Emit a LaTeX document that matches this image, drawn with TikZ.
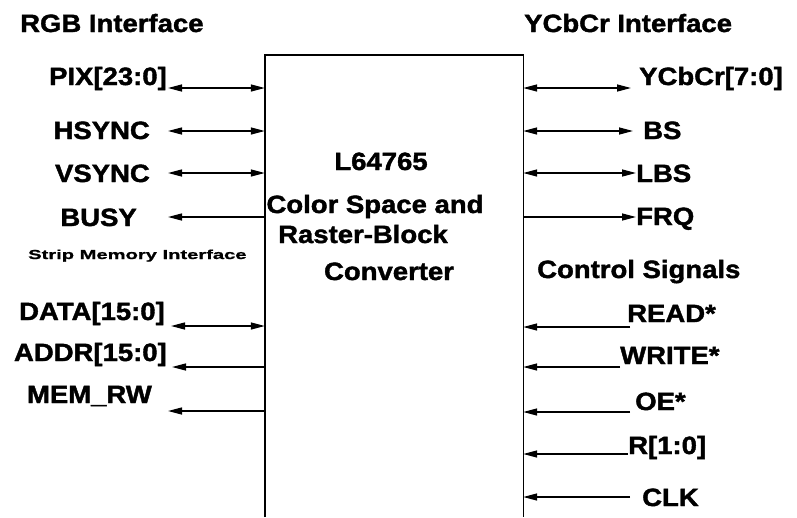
\documentclass[tikz,border=0pt]{standalone}
\usepackage{fontspec}
\newfontfamily\lblfont{Liberation Sans}[FakeStretch=1.1,FakeBold=1.6]
\newfontfamily\smlfont{Liberation Sans}[FakeStretch=1.55,FakeBold=1.2]
\usetikzlibrary{arrows.meta}
\tikzset{ah/.tip={Triangle[length=14pt,width=7pt]}}
\begin{document}
\begin{tikzpicture}[x=1pt,y=-1pt,
  lbl/.style={inner sep=0pt,font=\lblfont\bfseries\fontsize{25}{29}\selectfont},
  sml/.style={inner sep=0pt,font=\smlfont\bfseries\fontsize{13}{15}\selectfont},
  sig/.style={line width=1.4pt},
  both/.style={sig,arrows={ah-ah}},
  one/.style={sig,arrows={-ah}}]
\useasboundingbox (0,0) rectangle (797,517);
% chip
\node[minimum width=258pt,minimum height=462pt,inner sep=0pt] (chip) at (394,286) {};
\draw[line width=1.4pt] (chip.south west) -- (chip.north west) -- (chip.north east) -- (chip.south east);
\node[lbl,anchor=base] (t1) at (381,170) {L64765};
\node[lbl,anchor=base] (t2) at (375,213) {Color Space and};
\node[lbl,anchor=base] (t3) at (363,243) {Raster-Block};
\node[lbl,anchor=base] (t4) at (389,280) {Converter};
% titles
\node[lbl,anchor=base west] (rgb) at (20,32) {RGB Interface};
\node[lbl,anchor=base west] (ycc) at (524,32) {YCbCr Interface};
\node[sml,anchor=base west] (smi) at (28,259) {Strip Memory Interface};
\node[lbl,anchor=base west] (ctl) at (537,278) {Control Signals};
% left labels
\node[lbl,anchor=base east] (pix) at (167,85) {PIX[23:0]};
\node[lbl,anchor=base east] (hs) at (150,139) {HSYNC};
\node[lbl,anchor=base east] (vs) at (150,182) {VSYNC};
\node[lbl,anchor=base east] (busy) at (137,226) {BUSY};
\node[lbl,anchor=base east] (data) at (165,320) {DATA[15:0]};
\node[lbl,anchor=base east] (addr) at (167,361) {ADDR[15:0]};
\node[lbl,anchor=base east] (mem) at (152,403) {MEM\_RW};
% right labels
\node[lbl,anchor=base west] (ycbcr) at (639,85) {YCbCr[7:0]};
\node[lbl,anchor=base west] (bs) at (643,139) {BS};
\node[lbl,anchor=base west] (lbs) at (636,182) {LBS};
\node[lbl,anchor=base west] (frq) at (636,225) {FRQ};
\node[lbl,anchor=base west] (rd) at (627,322) {READ*};
\node[lbl,anchor=base west] (wr) at (620,364) {WRITE*};
\node[lbl,anchor=base west] (oe) at (635,410) {OE*};
\node[lbl,anchor=base west] (r10) at (628,454) {R[1:0]};
\node[lbl,anchor=base west] (clk) at (642,506) {CLK};
% left connector ends
\coordinate (pixL) at (168,88);
\coordinate (hsL) at (168,131);
\coordinate (vsL) at (168,173);
\coordinate (busyL) at (168,217);
\coordinate (dataL) at (171,326);
\coordinate (addrL) at (172,367);
\coordinate (memL) at (168,411);
\draw[both] (pixL) -- (pixL -| chip.west);
\draw[both] (hsL) -- (hsL -| chip.west);
\draw[both] (vsL) -- (vsL -| chip.west);
\draw[one] (busyL -| chip.west) -- (busyL);
\draw[both] (dataL) -- (dataL -| chip.west);
\draw[one] (addrL -| chip.west) -- (addrL);
\draw[one] (memL -| chip.west) -- (memL);
% right connector ends
\coordinate (ycR) at (631,88);
\coordinate (bsR) at (633,131);
\coordinate (lbsR) at (636,173);
\coordinate (frqR) at (636,217);
\coordinate (rdR) at (630,327);
\coordinate (wrR) at (620,367);
\coordinate (oeR) at (630,412);
\coordinate (rR) at (628,454);
\coordinate (clkR) at (630,497);
\draw[both] (ycR -| chip.east) -- (ycR);
\draw[both] (bsR -| chip.east) -- (bsR);
\draw[both] (lbsR -| chip.east) -- (lbsR);
\draw[one] (frqR -| chip.east) -- (frqR);
\draw[one] (rdR) -- (rdR -| chip.east);
\draw[one] (wrR) -- (wrR -| chip.east);
\draw[one] (oeR) -- (oeR -| chip.east);
\draw[one] (rR) -- (rR -| chip.east);
\draw[one] (clkR) -- (clkR -| chip.east);
\end{tikzpicture}
\end{document}
